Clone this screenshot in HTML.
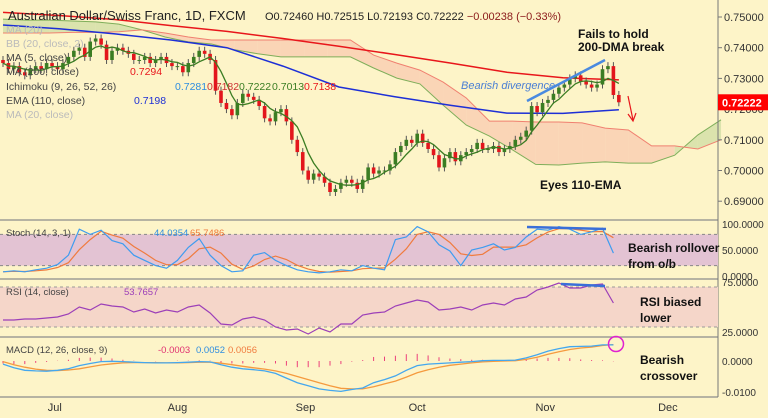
<!DOCTYPE html>
<html><head><meta charset="utf-8"><style>
html,body{margin:0;padding:0;background:#fdf4c8;}
svg{display:block;font-family:"Liberation Sans",sans-serif;}
</style></head><body>
<svg id="c" width="768" height="418" viewBox="0 0 768 418"></svg>
<script>
// ---------- DATA ----------
const closes=[0.735,0.733,0.734,0.732,0.731,0.733,0.734,0.733,0.735,0.734,
0.733,0.735,0.737,0.739,0.740,0.737,0.742,0.743,0.741,0.736,
0.739,0.740,0.739,0.738,0.736,0.736,0.737,0.735,0.736,0.737,
0.735,0.734,0.734,0.732,0.735,0.737,0.739,0.738,0.736,0.726,
0.722,0.720,0.718,0.722,0.725,0.724,0.723,0.721,0.717,0.716,
0.719,0.720,0.716,0.710,0.706,0.700,0.697,0.699,0.698,0.696,
0.693,0.694,0.696,0.697,0.696,0.694,0.697,0.701,0.699,0.700,
0.700,0.702,0.706,0.708,0.710,0.709,0.712,0.709,0.707,0.705,
0.701,0.704,0.706,0.703,0.705,0.706,0.707,0.709,0.707,0.707,
0.708,0.706,0.707,0.708,0.710,0.711,0.713,0.721,0.719,0.722,
0.723,0.725,0.727,0.728,0.730,0.731,0.729,0.728,0.727,0.728,
0.733,0.734,0.7246,0.72222];
const ma200=[0.7515,0.7505,0.7492,0.7472,0.7453,0.7430,0.7405,0.7378,0.7350,0.7320,0.7302,0.7295];
const ema110=[0.7474,0.7462,0.7445,0.7425,0.7400,0.7340,0.7272,0.7240,0.7212,0.7187,0.7186,0.7198];
const spanA=[0.7493,0.7490,0.7490,0.7487,0.7484,0.7477,0.7458,0.7435,0.7419,0.7412,0.7393,0.7380,0.7370,0.7370,0.7370,0.7370,0.7334,0.7301,0.7282,0.7213,0.7148,0.7112,0.7067,0.7020,0.7018,0.7024,0.7028,0.7024,0.7024,0.7050,0.7116,0.7165];
const spanB=[0.7448,0.7448,0.7448,0.7450,0.7450,0.7452,0.7458,0.7448,0.7435,0.7425,0.7425,0.7425,0.7425,0.7425,0.7425,0.7425,0.7376,0.7350,0.7327,0.7288,0.7236,0.7161,0.7161,0.7158,0.7158,0.7155,0.7138,0.7132,0.7080,0.7080,0.7070,0.7100];
const stochK=[8,10,8,12,15,22,40,90,80,88,68,62,40,30,20,15,30,55,72,40,20,8,10,40,45,30,20,12,8,6,8,12,10,20,15,12,70,75,95,85,60,48,20,50,55,62,50,55,75,90,88,95,90,80,85,92,44];
const rsi=[37,37,38,38,39,40,43,50,47,53,51,50,45,48,44,47,45,50,52,44,33,32,38,40,37,30,27,28,23,29,25,33,33,42,44,45,51,54,57,55,47,48,50,47,52,54,52,58,60,67,70,74,69,69,72,73,54];
const macd=[-0.0010,-0.0022,-0.0030,-0.0032,-0.0033,-0.0030,-0.0025,-0.0015,-0.0008,-0.0002,-0.0001,-0.0002,-0.0004,-0.0005,-0.0006,-0.0006,-0.0005,-0.0004,-0.0002,-0.0003,-0.0012,-0.0020,-0.0025,-0.0028,-0.0032,-0.0040,-0.0055,-0.0070,-0.0080,-0.0090,-0.0095,-0.0098,-0.0092,-0.0087,-0.0070,-0.0060,-0.0048,-0.0030,-0.0015,-0.0010,-0.0008,-0.0006,-0.0004,-0.0002,0.0001,0.0002,0.0002,0.0003,0.0010,0.0020,0.0032,0.0040,0.0046,0.0047,0.0048,0.0052,0.0052];
const signal=[-0.0002,-0.0012,-0.0020,-0.0026,-0.0030,-0.0031,-0.0029,-0.0025,-0.0019,-0.0013,-0.0009,-0.0006,-0.0005,-0.0005,-0.0005,-0.0006,-0.0006,-0.0005,-0.0004,-0.0004,-0.0007,-0.0012,-0.0017,-0.0022,-0.0026,-0.0032,-0.0040,-0.0050,-0.0060,-0.0070,-0.0080,-0.0088,-0.0090,-0.0090,-0.0083,-0.0074,-0.0065,-0.0052,-0.0038,-0.0028,-0.0020,-0.0014,-0.0010,-0.0006,-0.0003,-0.0001,0.0000,0.0001,0.0005,0.0012,0.0022,0.0030,0.0037,0.0042,0.0045,0.0050,0.0053];
const priceTicks=[0.75,0.74,0.73,0.72,0.71,0.70,0.69];
const months=["Jul","Aug","Sep","Oct","Nov","Dec"];
const monthIdx=[9.5,32,55.5,76,99.5,122];

// ---------- AXES ----------
const S=document.getElementById('c');const NS='http://www.w3.org/2000/svg';
function mk(t,a,txt){const e=document.createElementNS(NS,t);for(const k in a)e.setAttribute(k,a[k]);if(txt!==undefined)e.textContent=txt;S.appendChild(e);return e;}
const X=i=>3+i*5.45;
const Y=p=>17+(0.75-p)*3070;
const YS=v=>276-(v/100)*52;
const YR=v=>282+(75-v)*1.0;
const YM=v=>361-v*3100;
const CLOUD_STEP=4.25, MA_STEP=113/11;
function path(arr,xf,yf){return arr.map((v,i)=>(i?'L':'M')+xf(i).toFixed(1)+','+yf(v).toFixed(1)).join('');}

mk('rect',{x:0,y:0,width:768,height:418,fill:'#fdf4c8'});
for(let i=0;i<spanA.length-1;i++){
  const x1=X(i*CLOUD_STEP),x2=X((i+1)*CLOUD_STEP);
  const a1=spanA[i],a2=spanA[i+1],b1=spanB[i],b2=spanB[i+1];
  const p=mk('path',{d:`M${x1},${Y(a1)}L${x2},${Y(a2)}L${x2},${Y(b2)}L${x1},${Y(b1)}Z`,fill:(a1+a2>=b1+b2)?'#d5dfa8':'#f9cfb3',opacity:0.85});
  
  
}
let e;
e=mk('path',{d:path(spanA,i=>X(i*CLOUD_STEP),Y),fill:'none',stroke:'#7fae5a','stroke-width':1});

e=mk('path',{d:path(spanB,i=>X(i*CLOUD_STEP),Y),fill:'none',stroke:'#f08070','stroke-width':1});

e=mk('path',{d:path(ma200,i=>X(i*MA_STEP),Y),fill:'none',stroke:'#e8161b','stroke-width':1.5});

e=mk('path',{d:path(ema110,i=>X(i*MA_STEP),Y),fill:'none',stroke:'#1d2fd6','stroke-width':1.5});


for(let i=0;i<closes.length;i++){
  const c=closes[i],o=i?closes[i-1]:c+0.001;
  const up=c>=o,top=Y(Math.max(o,c)),bot=Y(Math.min(o,c));
  const w=mk('line',{x1:X(i),x2:X(i),y1:top-4,y2:bot+4,stroke:'#555','stroke-width':1});
  
  const r=mk('rect',{x:X(i)-1.8,y:top,width:3.6,height:Math.max(1,bot-top),fill:up?'#3b7d23':'#e3161c'});
  
}
const sma=closes.map((v,i)=>{const s=closes.slice(Math.max(0,i-4),i+1);return s.reduce((a,b)=>a+b,0)/s.length;});
e=mk('path',{d:path(sma,X,Y),fill:'none',stroke:'#3b7d23','stroke-width':1.3});


[220,279,337,397].forEach(y=>{e=mk('line',{x1:0,x2:718,y1:y,y2:y,stroke:'#8c8c8c','stroke-width':1.2});});
e=mk('line',{x1:718,x2:718,y1:0,y2:397,stroke:'#777','stroke-width':1});


e=mk('rect',{x:0,y:YS(80),width:718,height:YS(20)-YS(80),fill:'#e3c3d3'});

[80,20].forEach(v=>mk('line',{x1:0,x2:718,y1:YS(v),y2:YS(v),stroke:'#888','stroke-dasharray':'3,3'}));
const stochD=stochK.map((v,i)=>{const s=stochK.slice(Math.max(0,i-2),i+1);return s.reduce((a,b)=>a+b,0)/s.length;});
const X2=i=>X(i*2);
e=mk('path',{d:path(stochD,X2,YS),fill:'none',stroke:'#f07b3e','stroke-width':1.2});

e=mk('path',{d:path(stochK,X2,YS),fill:'none',stroke:'#3e9cf0','stroke-width':1.2});


e=mk('rect',{x:0,y:YR(70),width:718,height:YR(30)-YR(70),fill:'#f5d6c9'});

[70,30].forEach(v=>mk('line',{x1:0,x2:718,y1:YR(v),y2:YR(v),stroke:'#999','stroke-dasharray':'3,3'}));
e=mk('path',{d:path(rsi,X2,YR),fill:'none',stroke:'#9c3fb8','stroke-width':1.2});


for(let i=0;i<macd.length;i++){
  const h=macd[i]-signal[i];
  e=mk('line',{x1:X2(i),x2:X2(i),y1:YM(0),y2:YM(h),stroke:'#ec3f7a','stroke-width':1});
  
}
e=mk('path',{d:path(signal,X2,YM),fill:'none',stroke:'#f59a3e','stroke-width':1.3});

e=mk('path',{d:path(macd,X2,YM),fill:'none',stroke:'#44a7ee','stroke-width':1.3});


function lbl(x,y,t,name,extra){const o=Object.assign({x:x,y:y,'font-size':11,fill:'#333'},extra||{});const el=mk('text',o,t);return el;}
priceTicks.forEach(p=>{mk('line',{x1:718,x2:722,y1:Y(p),y2:Y(p),stroke:'#777'});lbl(724,Y(p)+4,p.toFixed(5),'price-tick-label');});
[[100,'100.0000'],[50,'50.0000'],[0,'0.0000']].forEach(a=>lbl(722,YS(a[0])+4,a[1],'stoch-tick-label',{'font-size':10}));
[[75,'75.0000'],[25,'25.0000']].forEach(a=>lbl(722,YR(a[0])+4,a[1],'rsi-tick-label',{'font-size':10}));
[[0,'0.0000'],[-0.01,'-0.0100']].forEach(a=>lbl(722,YM(a[0])+4,a[1],'macd-tick-label',{'font-size':10}));
months.forEach((m,i)=>{lbl(X(monthIdx[i]),411,m,'month-label',{'text-anchor':'middle'});});
e=mk('rect',{x:718,y:Y(0.72222)-8,width:50,height:16,fill:'#f00'});

lbl(722,Y(0.72222)+4,'0.72222','last-price-label',{fill:'#fff','font-weight':'bold'});
</script>
<svg width="768" height="418" style="position:absolute;left:0;top:0" font-family="Liberation Sans, sans-serif">
<g font-size="10.5" fill="#444">
<text x="8" y="20" font-size="13" fill="#222">Australian Dollar/Swiss Franc, 1D, FXCM</text>
<text x="265" y="20" font-size="11" fill="#222">O0.72460  H0.72515  L0.72193  C0.72222  <tspan fill="#8b1a1a">−0.00238 (−0.33%)</tspan></text>
<text x="6" y="33" fill="#bbb">MA (20)</text>
<text x="6" y="47" fill="#bbb">BB (20, close, 2)</text>
<text x="6" y="61">MA (5, close)</text>
<text x="6" y="75">MA (200, close) <tspan x="130" fill="#e8161b">0.7294</tspan></text>
<text x="6" y="90">Ichimoku (9, 26, 52, 26) <tspan x="175" fill="#2e8de0">0.7281</tspan> <tspan x="207" fill="#c33">0.7182</tspan> <tspan x="239" fill="#3b7d23">0.7222</tspan> <tspan x="272" fill="#3b7d23">0.7013</tspan> <tspan x="304" fill="#e8161b">0.7138</tspan></text>
<text x="6" y="104">EMA (110, close) <tspan x="134" fill="#1d2fd6">0.7198</tspan></text>
<text x="6" y="118" fill="#bbb">MA (20, close)</text>
<text x="6" y="236" font-size="9.5">Stoch (14, 3, 1) <tspan x="154" fill="#2e8de0">44.0354</tspan> <tspan x="190" fill="#f07b3e">65.7486</tspan></text>
<text x="6" y="295" font-size="9.5">RSI (14, close) <tspan x="124" fill="#9c3fb8">53.7657</tspan></text>
<text x="6" y="353" font-size="9.5">MACD (12, 26, close, 9) <tspan x="158" fill="#e03070">-0.0003</tspan> <tspan x="196" fill="#2e8de0">0.0052</tspan> <tspan x="228" fill="#f07b3e">0.0056</tspan></text>
</g>
<g font-weight="bold" font-size="12" fill="#111">
<text x="578" y="38">Fails to hold</text>
<text x="578" y="51">200-DMA break</text>
<text x="540" y="189">Eyes 110-EMA</text>
<text x="628" y="252">Bearish rollover</text>
<text x="628" y="268">from o/b</text>
<text x="640" y="306">RSI biased</text>
<text x="640" y="322">lower</text>
<text x="640" y="364">Bearish</text>
<text x="640" y="380">crossover</text>
</g>
<text x="461" y="89" font-size="11" font-style="italic" fill="#4a7fd4">Bearish divergence</text>
<line x1="527" y1="101" x2="605" y2="60" stroke="#4a8ae0" stroke-width="2.5"/>
<line x1="527" y1="227" x2="606" y2="229" stroke="#3a6fd8" stroke-width="2.5"/>
<line x1="561" y1="284" x2="605" y2="286" stroke="#3a6fd8" stroke-width="2.5"/>
<line x1="628" y1="96" x2="633" y2="120" stroke="#e8161b" stroke-width="1.2"/>
<path d="M628,114 L633,121 L636,113" fill="none" stroke="#e8161b" stroke-width="1.2"/>
<circle cx="616" cy="344" r="7.5" fill="none" stroke="#e020d0" stroke-width="1.5"/>
</svg>
</body></html>
